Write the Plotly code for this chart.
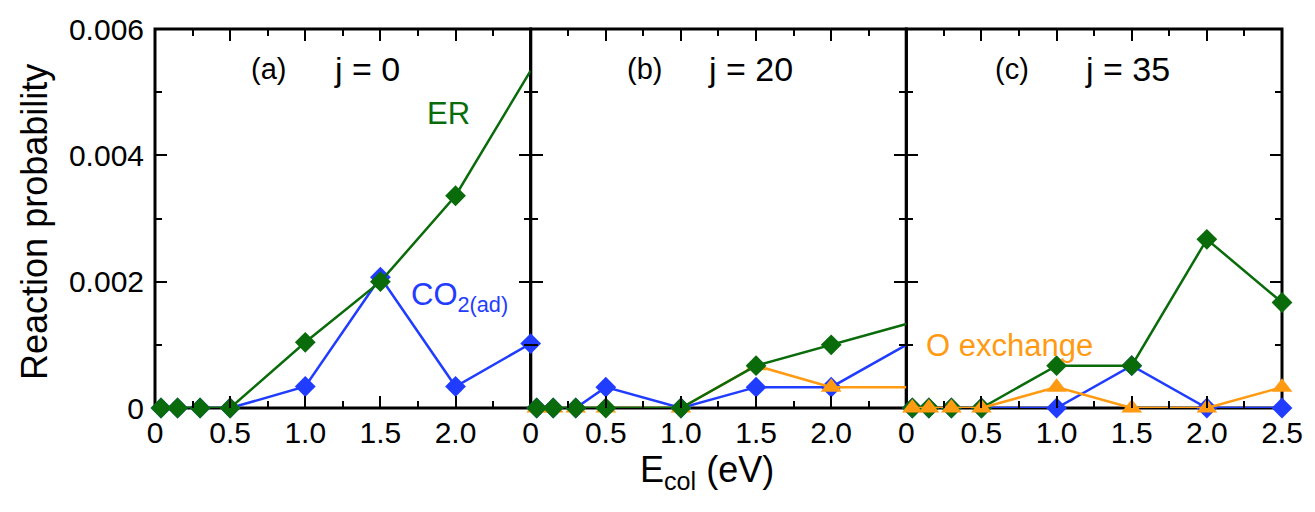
import plotly.graph_objects as go

# Collision energies (eV) shared by all three panels
e_col = [0.04, 0.15, 0.3, 0.5, 1.0, 1.5, 2.0, 2.5]

# (a) j = 0
er_j0 = [0, 0, 0, 0, 0.00104, 0.00200, 0.00336, 0.00534]
co2_j0 = [0, 0, 0, 0, 0.00034, 0.00207, 0.00034, 0.00102]

# (b) j = 20
er_j20 = [0, 0, 0, 0, 0, 0.00067, 0.00100, 0.00133]
co2_j20 = [0, 0, 0, 0.00033, 0, 0.00033, 0.00033, 0.00100]
oex_j20 = [0, 0, 0, 0, 0, 0.00067, 0.00033, 0.00033]

# (c) j = 35
er_j35 = [0, 0, 0, 0, 0.00067, 0.00067, 0.00267, 0.00167]
co2_j35 = [0, 0, 0, 0, 0, 0.00067, 0, 0]
oex_j35 = [0, 0, 0, 0, 0.00033, 0, 0, 0.00033]

x_ticks = [0, 0.5, 1.0, 1.5, 2.0, 2.5]
x_ticktext = ["0", "0.5", "1.0", "1.5", "2.0", "2.5"]
y_ticks = [0, 0.002, 0.004, 0.006]
y_ticktext = ["0", "0.002", "0.004", "0.006"]

GREEN = "#0a6b0a"
BLUE = "#1f3cff"
ORANGE = "#ff9a12"
FONT = "Liberation Sans, Arial, Helvetica, sans-serif"

D = 16  # diamond size
T = 18  # triangle size

fig = go.Figure()


def add(panel, y, color, symbol, size, sizes=None):
    xa = "x" if panel == 1 else f"x{panel}"
    ya = "y" if panel == 1 else f"y{panel}"
    fig.add_trace(go.Scatter(
        x=e_col, y=y, xaxis=xa, yaxis=ya, mode="lines+markers",
        line=dict(color=color, width=2.5),
        marker=dict(symbol=symbol, color=color, size=sizes if sizes else size,
                    opacity=1, line=dict(width=0)),
        cliponaxis=False, showlegend=False, hoverinfo="x+y"))


n = len(e_col)
# the last point of the left two panels sits on the shared frame edge
no_last_d = [D] * (n - 1) + [0]

# (a)
add(1, co2_j0, BLUE, "diamond", D)
add(1, er_j0, GREEN, "diamond", D, no_last_d)
# (b)
add(2, co2_j20, BLUE, "diamond", D, no_last_d)
add(2, oex_j20, ORANGE, "triangle-up", T, [T] * (n - 1) + [0])
add(2, er_j20, GREEN, "diamond", D, no_last_d)
# (c)
add(3, co2_j35, BLUE, "diamond", D)
add(3, er_j35, GREEN, "diamond", D)
add(3, oex_j35, ORANGE, "triangle-up", T)

minor_x = [0.25, 0.75, 1.25, 1.75, 2.25]
minor_y = [0.001, 0.003, 0.005]

common_x = dict(range=[0, 2.5], showgrid=False, zeroline=False,
                showline=False, mirror="ticks",
                ticks="inside", ticklen=12, tickwidth=2, tickcolor="black",
                tickvals=x_ticks, ticktext=x_ticktext,
                tickfont=dict(family=FONT, size=30, color="black"),
                ticklabelstandoff=4,
                minor=dict(tickvals=minor_x, ticks="inside", ticklen=7,
                           tickwidth=2, tickcolor="black", showgrid=False))
common_y = dict(range=[0, 0.006], showgrid=False, zeroline=False,
                showline=False, mirror="ticks",
                ticks="inside", ticklen=12, tickwidth=2, tickcolor="black",
                tickvals=y_ticks, ticktext=y_ticktext,
                tickfont=dict(family=FONT, size=30, color="black"),
                ticklabelstandoff=10,
                minor=dict(tickvals=minor_y, ticks="inside", ticklen=7,
                           tickwidth=2, tickcolor="black", showgrid=False))

third = 1 / 3
fig.update_layout(
    width=1315, height=512,
    margin=dict(l=155, r=24, t=28, b=104),
    paper_bgcolor="white", plot_bgcolor="white",
    xaxis=dict(common_x, domain=[0, third], anchor="y",
               tickvals=x_ticks[:-1], ticktext=x_ticktext[:-1]),
    xaxis2=dict(common_x, domain=[third, 2 * third], anchor="y2",
                tickvals=x_ticks[:-1], ticktext=x_ticktext[:-1]),
    xaxis3=dict(common_x, domain=[2 * third, 1], anchor="y3"),
    yaxis=dict(common_y, domain=[0, 1], anchor="x"),
    yaxis2=dict(common_y, domain=[0, 1], anchor="x2", showticklabels=False),
    yaxis3=dict(common_y, domain=[0, 1], anchor="x3", showticklabels=False),
)

# panel frames, drawn so that neighbouring panels share one edge line
shapes = []
for xa, ya in (("x", "y"), ("x2", "y2"), ("x3", "y3")):
    shapes.append(dict(type="rect", xref=f"{xa} domain", yref=f"{ya} domain",
                       x0=0, x1=1, y0=0, y1=1, layer="below",
                       line=dict(color="black", width=3)))
fig.update_layout(shapes=shapes)

ann = []


def label(xref, yref, x, y, text, size, color="black", xanchor="center"):
    ann.append(dict(xref=xref, yref=yref, x=x, y=y, text=text, showarrow=False,
                    xanchor=xanchor, yanchor="middle",
                    font=dict(family=FONT, size=size, color=color)))


# panel headers
label("x", "y", 0.757, 0.00537, "(a)", 29)
label("x", "y", 1.414, 0.00537, "j = 0", 34)
label("x2", "y2", 0.757, 0.00537, "(b)", 29)
label("x2", "y2", 1.46, 0.00537, "j = 20", 34)
label("x3", "y3", 0.70, 0.00537, "(c)", 29)
label("x3", "y3", 1.47, 0.00537, "j = 35", 34)

# series labels
label("x", "y", 1.95, 0.00466, "ER", 31, GREEN)
label("x", "y", 1.69, 0.00175, "CO<sub>2(ad)</sub>", 31, BLUE, "left")
label("x3", "y3", 0.12, 0.00099, "O exchange", 31, ORANGE, "left")

# axis titles
ann.append(dict(xref="paper", yref="paper", x=-0.107, y=0.492,
                text="Reaction probability", textangle=-90, showarrow=False,
                xanchor="center", yanchor="middle",
                font=dict(family=FONT, size=36, color="black")))
ann.append(dict(xref="paper", yref="paper", x=0.49, y=-0.17,
                text="E<sub>col</sub> (eV)", showarrow=False,
                xanchor="center", yanchor="middle",
                font=dict(family=FONT, size=36, color="black")))

fig.update_layout(annotations=ann)

fig.write_html("out.html")
